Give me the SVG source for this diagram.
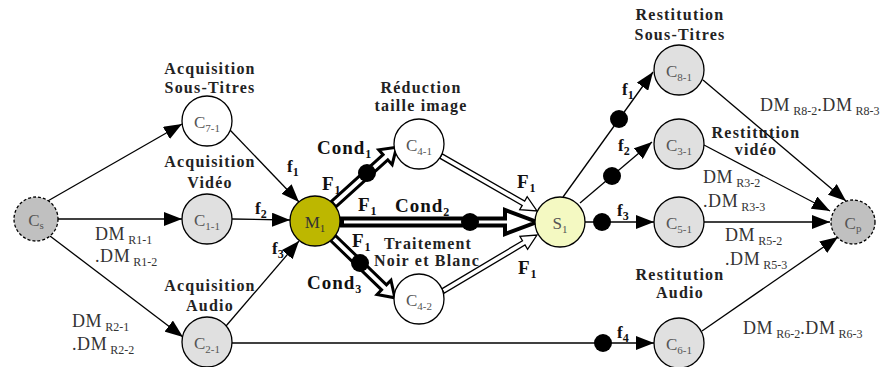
<svg xmlns="http://www.w3.org/2000/svg" width="887" height="367" viewBox="0 0 887 367">
<defs>
<marker id="ah" markerUnits="userSpaceOnUse" markerWidth="18" markerHeight="14" refX="18" refY="7" orient="auto">
<path d="M0,0 L18,7 L0,14 z" fill="#000"/>
</marker>
<style>
.ln{stroke:#000;stroke-width:1.3;fill:none;marker-end:url(#ah)}
.hl{fill:#fff;stroke:#000;stroke-width:3;stroke-linejoin:miter}
.hm{fill:#fff;stroke:#000;stroke-width:4;stroke-linejoin:miter}
.ht{fill:#fff;stroke:#000;stroke-width:1.3;stroke-linejoin:miter}
.dot{fill:#000}
.nc{stroke:#000;stroke-width:1.3}
.lt{fill:#e0e0e0}
.wh{fill:#fff}
.ds{fill:#c0c0c0;stroke-dasharray:3 2}
.m1{fill:#bdb700}
.s1{fill:#f4f9c2}
.nl{font-family:"Liberation Serif",serif;font-size:17px;fill:#555;text-anchor:middle}
.ns{font-size:11px}
.bl{font-family:"Liberation Serif",serif;font-weight:bold;font-size:16px;letter-spacing:1.2px;fill:#222;text-anchor:middle}
.dm{font-family:"Liberation Serif",serif;font-size:18px;letter-spacing:0.6px;fill:#333}
.dms{font-size:12px;letter-spacing:0}
.bg{font-family:"Liberation Serif",serif;font-weight:bold;font-size:19px;letter-spacing:1px;fill:#111}
.fs{font-family:"Liberation Serif",serif;font-weight:bold;font-size:17px;fill:#111}
.sb{font-size:12px}
</style>
</defs>
<rect width="887" height="367" fill="#fff"/>

<g id="connectors">
<line class="ln" x1="46" y1="202" x2="182" y2="124"/>
<line class="ln" x1="58" y1="219" x2="182" y2="219"/>
<line class="ln" x1="50" y1="236" x2="183" y2="337"/>
<line class="ln" x1="230" y1="130" x2="299" y2="202"/>
<line class="ln" x1="232" y1="219" x2="290" y2="220"/>
<line class="ln" x1="226" y1="326" x2="299" y2="241"/>
<line class="ln" x1="232" y1="343" x2="654" y2="343"/>
<line class="ln" x1="563" y1="197" x2="653" y2="72"/>
<line class="ln" x1="580" y1="203" x2="652" y2="142"/>
<line class="ln" x1="585" y1="222" x2="654" y2="222"/>
<line class="ln" x1="703" y1="80" x2="846" y2="201"/>
<line class="ln" x1="704" y1="145" x2="830" y2="211"/>
<line class="ln" x1="704" y1="222" x2="830" y2="222"/>
<line class="ln" x1="702" y1="331" x2="838" y2="237"/>
<polygon class="hl" transform="translate(333.5,204.2) rotate(-42.1)" points="0,-3.5 70,-3.5 70,-10 85,0 70,10 70,3.5 0,3.5"/>
<polygon class="hl" transform="translate(333,238) rotate(44.06)" points="0,-3.5 71,-3.5 71,-10 86,0 71,10 71,3.5 0,3.5"/>
<polygon class="hm" transform="translate(342,222)" points="0,-3.5 163,-3.5 163,-12 195,0 163,12 163,3.5 0,3.5"/>
<polygon class="ht" transform="translate(441,156) rotate(29.8)" points="0,-2.5 95,-2.5 95,-7.5 110.6,0 95,7.5 95,2.5 0,2.5"/>
<polygon class="ht" transform="translate(443,291) rotate(-30.8)" points="0,-2.5 94,-2.5 94,-7.5 109.4,0 94,7.5 94,2.5 0,2.5"/>
<circle class="dot" cx="367" cy="173" r="9"/>
<circle class="dot" cx="360" cy="263" r="9"/>
<circle class="dot" cx="470" cy="222" r="9"/>
<circle class="dot" cx="619" cy="119" r="9"/>
<circle class="dot" cx="612" cy="176" r="9"/>
<circle class="dot" cx="602" cy="222" r="9"/>
<circle class="dot" cx="603" cy="343" r="9"/>
</g>

<g id="labels">
<text class="fs" x="287" y="172">f<tspan class="sb" dy="4">1</tspan></text>
<text class="fs" x="255" y="214">f<tspan class="sb" dy="4">2</tspan></text>
<text class="fs" x="272" y="254">f<tspan class="sb" dy="4">3</tspan></text>
<text class="fs" x="622" y="95">f<tspan class="sb" dy="4">1</tspan></text>
<text class="fs" x="618" y="151">f<tspan class="sb" dy="4">2</tspan></text>
<text class="fs" x="617" y="216">f<tspan class="sb" dy="4">3</tspan></text>
<text class="fs" x="617" y="338">f<tspan class="sb" dy="4">4</tspan></text>
<text class="bg" x="317" y="154">Cond<tspan class="sb" dy="4">1</tspan></text>
<text class="bg" x="395" y="212">Cond<tspan class="sb" dy="4">2</tspan></text>
<text class="bg" x="307" y="289">Cond<tspan class="sb" dy="4">3</tspan></text>
<text class="bg" x="322" y="190">F<tspan class="sb" dy="4">1</tspan></text>
<text class="bg" x="358" y="211">F<tspan class="sb" dy="4">1</tspan></text>
<text class="bg" x="352" y="247">F<tspan class="sb" dy="4">1</tspan></text>
<text class="bg" x="517" y="188">F<tspan class="sb" dy="4">1</tspan></text>
<text class="bg" x="518" y="274">F<tspan class="sb" dy="4">1</tspan></text>
<text class="dm" x="95" y="240">DM<tspan class="dms" dy="4"> R1-1</tspan></text>
<text class="dm" x="95" y="262">.DM<tspan class="dms" dy="4"> R1-2</tspan></text>
<text class="dm" x="72" y="327">DM<tspan class="dms" dy="4"> R2-1</tspan></text>
<text class="dm" x="72" y="350">.DM<tspan class="dms" dy="4"> R2-2</tspan></text>
<text class="dm" x="760" y="111">DM<tspan class="dms" dy="4"> R8-2</tspan><tspan dy="-4">.DM</tspan><tspan class="dms" dy="4"> R8-3</tspan></text>
<text class="dm" x="703" y="183">DM<tspan class="dms" dy="4"> R3-2</tspan></text>
<text class="dm" x="703" y="207">.DM<tspan class="dms" dy="4"> R3-3</tspan></text>
<text class="dm" x="725" y="241">DM<tspan class="dms" dy="4"> R5-2</tspan></text>
<text class="dm" x="725" y="265">.DM<tspan class="dms" dy="4"> R5-3</tspan></text>
<text class="dm" x="743" y="334">DM<tspan class="dms" dy="4"> R6-2</tspan><tspan dy="-4">.DM</tspan><tspan class="dms" dy="4"> R6-3</tspan></text>
</g>

<g id="Cs"><circle class="nc ds" cx="36" cy="219" r="22"/><text class="nl" x="36" y="226">C<tspan class="ns" dy="3">s</tspan></text></g>
<g id="C7-1"><circle class="nc wh" cx="207" cy="121" r="25"/><text class="nl" x="207" y="128">C<tspan class="ns" dy="4">7-1</tspan></text>
<text class="bl" x="210" y="74">Acquisition</text><text class="bl" x="210" y="93">Sous-Titres</text></g>
<g id="C1-1"><circle class="nc lt" cx="207" cy="219" r="25"/><text class="nl" x="207" y="226">C<tspan class="ns" dy="4">1-1</tspan></text>
<text class="bl" x="210" y="167">Acquisition</text><text class="bl" x="210" y="188">Vidéo</text></g>
<g id="C2-1"><circle class="nc lt" cx="207" cy="342" r="25"/><text class="nl" x="207" y="349">C<tspan class="ns" dy="4">2-1</tspan></text>
<text class="bl" x="210" y="291">Acquisition</text><text class="bl" x="210" y="311">Audio</text></g>
<g id="M1"><circle class="nc m1" cx="315" cy="221" r="25"/><text class="nl" x="315" y="228" style="fill:#333">M<tspan class="ns" dy="4">1</tspan></text></g>
<g id="C4-1"><circle class="nc wh" cx="419" cy="144" r="25"/><text class="nl" x="419" y="151">C<tspan class="ns" dy="4">4-1</tspan></text>
<text class="bl" x="421" y="93">Réduction</text><text class="bl" x="421" y="111">taille image</text></g>
<g id="C4-2"><circle class="nc wh" cx="419" cy="299" r="25"/><text class="nl" x="419" y="306">C<tspan class="ns" dy="4">4-2</tspan></text>
<text class="bl" x="428" y="249">Traitement</text><text class="bl" x="427" y="266">Noir et Blanc</text></g>
<g id="S1"><circle class="nc s1" cx="560" cy="222" r="25"/><text class="nl" x="560" y="229">S<tspan class="ns" dy="4">1</tspan></text></g>
<g id="C8-1"><circle class="nc lt" cx="679" cy="70" r="25"/><text class="nl" x="679" y="77">C<tspan class="ns" dy="4">8-1</tspan></text>
<text class="bl" x="680" y="20">Restitution</text><text class="bl" x="680" y="40">Sous-Titres</text></g>
<g id="C3-1"><circle class="nc lt" cx="679" cy="144" r="25"/><text class="nl" x="679" y="151">C<tspan class="ns" dy="4">3-1</tspan></text>
<text class="bl" x="756" y="138">Restitution</text><text class="bl" x="756" y="155">vidéo</text></g>
<g id="C5-1"><circle class="nc lt" cx="679" cy="222" r="25"/><text class="nl" x="679" y="229">C<tspan class="ns" dy="4">5-1</tspan></text></g>
<g id="C6-1"><circle class="nc lt" cx="679" cy="343" r="25"/><text class="nl" x="679" y="350">C<tspan class="ns" dy="4">6-1</tspan></text>
<text class="bl" x="680" y="280">Restitution</text><text class="bl" x="680" y="298">Audio</text></g>
<g id="Cp"><circle class="nc ds" cx="853" cy="222" r="22"/><text class="nl" x="853" y="229">C<tspan class="ns" dy="3">p</tspan></text></g>
</svg>
